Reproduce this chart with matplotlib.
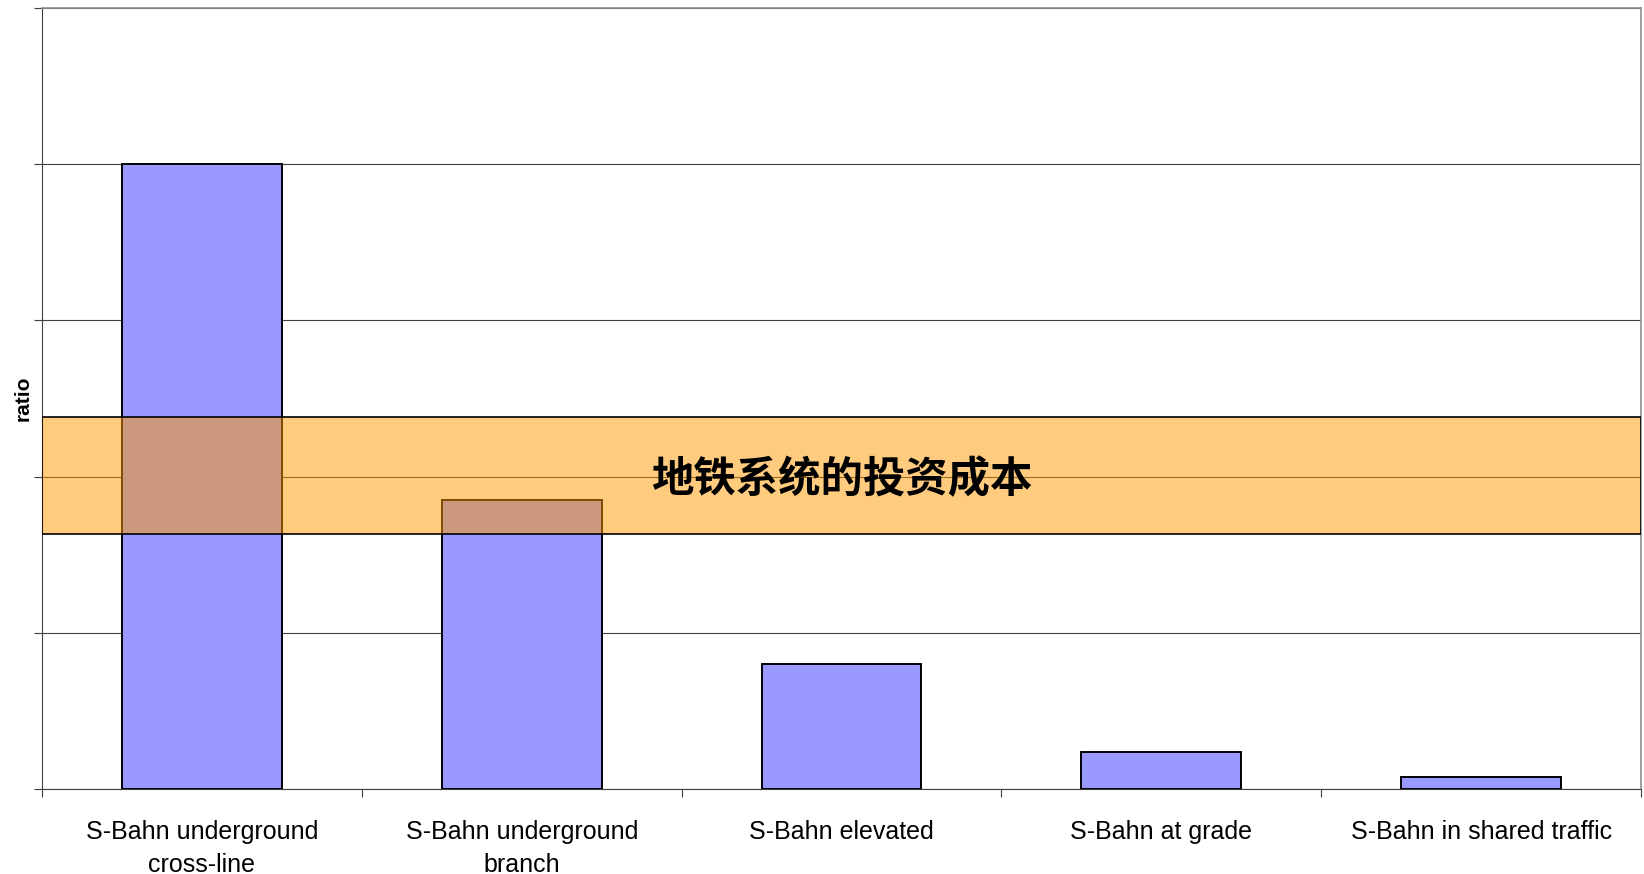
import matplotlib
matplotlib.use("Agg")
import matplotlib.pyplot as plt
import numpy as np

plt.rcParams['font.family'] = ['Liberation Sans', 'Noto Sans CJK SC', 'DejaVu Sans']

# data (units = gridline steps)
categories = ['S-Bahn underground\ncross-line', 'S-Bahn underground\nbranch',
              'S-Bahn elevated', 'S-Bahn at grade', 'S-Bahn in shared traffic']
ratio = [4.0, 1.85, 0.80, 0.24, 0.08]
band_low, band_high = 1.63, 2.38
band_text = '地铁系统的投资成本'

fig = plt.figure(figsize=(16.44, 8.74), dpi=100)
ax = fig.add_axes([42 / 1644, 1 - 789 / 874, (1641 - 42) / 1644, (789 - 8) / 874])

x = np.arange(len(categories)) + 0.5
ax.bar(x, ratio, width=0.5, color='#9999ff', edgecolor='black', linewidth=1.4, zorder=3)

ax.set_xlim(0, len(categories))
ax.set_ylim(0, 5)

# gridlines
ax.set_yticks(np.arange(0, 6))
ax.set_yticklabels([])
ax.yaxis.grid(True, color='#404040', linewidth=0.8, zorder=1)
ax.set_axisbelow(True)
ax.tick_params(axis='y', direction='out', length=6, width=0.8, color='#404040')

# category ticks at boundaries, labels at centres
ax.set_xticks(np.arange(0, len(categories) + 1))
ax.set_xticklabels([])
ax.set_xticks(x, minor=True)
ax.set_xticklabels(categories, minor=True, fontsize=18, linespacing=1.5)
ax.tick_params(axis='x', which='major', direction='out', length=6, width=0.8, color='#404040')
ax.tick_params(axis='x', which='minor', length=0, pad=22)

for side in ['top', 'right']:
    ax.spines[side].set_color('#909090')
    ax.spines[side].set_linewidth(1.2)
for side in ['left', 'bottom']:
    ax.spines[side].set_color('#404040')
    ax.spines[side].set_linewidth(0.8)

# semi-transparent orange band with caption
ax.axhspan(band_low, band_high, facecolor=(1.0, 0.6, 0.0, 0.5), edgecolor='black',
           linewidth=1.2, zorder=5)
ax.text(len(categories) / 2, (band_low + band_high) / 2 - 0.03, band_text, fontsize=30.5,
        family=['Noto Sans CJK SC'], fontweight='bold', ha='center', va='center', zorder=6)

ax.set_ylabel('ratio', fontsize=15, fontweight='bold', labelpad=-2.5)

fig.savefig('out.png', dpi=100)
